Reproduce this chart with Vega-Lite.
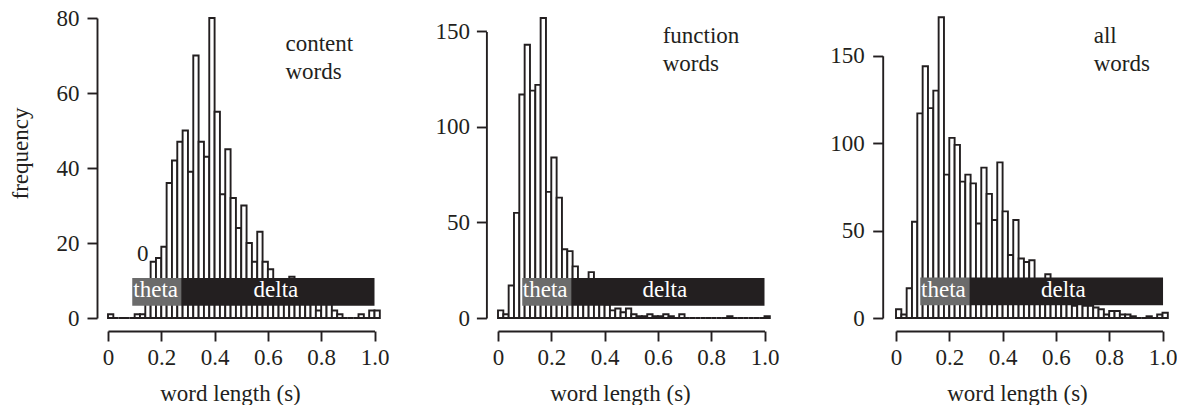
{
  "$schema": "https://vega.github.io/schema/vega-lite/v6.json",
  "background": "white",
  "padding": {"left": 9, "top": 7, "right": 0, "bottom": 0},
  "config": {
    "view": {"stroke": null},
    "axis": {
      "grid": false,
      "domainColor": "#231f20", "domainWidth": 1.9,
      "tickColor": "#231f20", "tickWidth": 1.9, "tickSize": 10,
      "labelFont": "Liberation Serif", "labelFontSize": 23, "labelColor": "#231f20",
      "titleFont": "Liberation Serif", "titleFontSize": 23, "titleFontWeight": "normal", "titleColor": "#231f20",
      "labelFlush": false, "labelOverlap": false
    }
  },
  "datasets": {
    "content": [
      {"start":0.00,"end":0.02,"count":1},{"start":0.02,"end":0.04,"count":0},{"start":0.04,"end":0.06,"count":0},
      {"start":0.06,"end":0.08,"count":0},{"start":0.08,"end":0.10,"count":0},{"start":0.10,"end":0.12,"count":1},
      {"start":0.12,"end":0.14,"count":1},{"start":0.14,"end":0.16,"count":8},{"start":0.16,"end":0.18,"count":15},
      {"start":0.18,"end":0.20,"count":16},{"start":0.20,"end":0.22,"count":19},{"start":0.22,"end":0.24,"count":36},
      {"start":0.24,"end":0.26,"count":42},{"start":0.26,"end":0.28,"count":47},{"start":0.28,"end":0.30,"count":50},
      {"start":0.30,"end":0.32,"count":39},{"start":0.32,"end":0.34,"count":70},{"start":0.34,"end":0.36,"count":47},
      {"start":0.36,"end":0.38,"count":43},{"start":0.38,"end":0.40,"count":80},{"start":0.40,"end":0.42,"count":55},
      {"start":0.42,"end":0.44,"count":33},{"start":0.44,"end":0.46,"count":45},{"start":0.46,"end":0.48,"count":32},
      {"start":0.48,"end":0.50,"count":24},{"start":0.50,"end":0.52,"count":30},{"start":0.52,"end":0.54,"count":20},
      {"start":0.54,"end":0.56,"count":15},{"start":0.56,"end":0.58,"count":23},{"start":0.58,"end":0.60,"count":15},
      {"start":0.60,"end":0.62,"count":13},{"start":0.62,"end":0.64,"count":9},{"start":0.64,"end":0.66,"count":8},
      {"start":0.66,"end":0.68,"count":7},{"start":0.68,"end":0.70,"count":11},{"start":0.70,"end":0.72,"count":6},
      {"start":0.72,"end":0.74,"count":6},{"start":0.74,"end":0.76,"count":5},{"start":0.76,"end":0.78,"count":4},
      {"start":0.78,"end":0.80,"count":2},{"start":0.80,"end":0.82,"count":4},{"start":0.82,"end":0.84,"count":4},
      {"start":0.84,"end":0.86,"count":2},{"start":0.86,"end":0.88,"count":1},{"start":0.88,"end":0.90,"count":0},
      {"start":0.90,"end":0.92,"count":0},{"start":0.92,"end":0.94,"count":0},{"start":0.94,"end":0.96,"count":1},
      {"start":0.96,"end":0.98,"count":0},{"start":0.98,"end":1.00,"count":2},{"start":1.00,"end":1.02,"count":2}
    ],
    "function": [
      {"start":0.00,"end":0.02,"count":4},{"start":0.02,"end":0.04,"count":2},{"start":0.04,"end":0.06,"count":17},
      {"start":0.06,"end":0.08,"count":55},{"start":0.08,"end":0.10,"count":117},{"start":0.10,"end":0.12,"count":143},
      {"start":0.12,"end":0.14,"count":119},{"start":0.14,"end":0.16,"count":122},{"start":0.16,"end":0.18,"count":157},
      {"start":0.18,"end":0.20,"count":66},{"start":0.20,"end":0.22,"count":84},{"start":0.22,"end":0.24,"count":63},
      {"start":0.24,"end":0.26,"count":36},{"start":0.26,"end":0.28,"count":35},{"start":0.28,"end":0.30,"count":27},
      {"start":0.30,"end":0.32,"count":15},{"start":0.32,"end":0.34,"count":16},{"start":0.34,"end":0.36,"count":24},
      {"start":0.36,"end":0.38,"count":13},{"start":0.38,"end":0.40,"count":9},{"start":0.40,"end":0.42,"count":7},
      {"start":0.42,"end":0.44,"count":4},{"start":0.44,"end":0.46,"count":5},{"start":0.46,"end":0.48,"count":3},
      {"start":0.48,"end":0.50,"count":5},{"start":0.50,"end":0.52,"count":2},{"start":0.52,"end":0.54,"count":1},
      {"start":0.54,"end":0.56,"count":1},{"start":0.56,"end":0.58,"count":2},{"start":0.58,"end":0.60,"count":1},
      {"start":0.60,"end":0.62,"count":1},{"start":0.62,"end":0.64,"count":2},{"start":0.64,"end":0.66,"count":1},
      {"start":0.66,"end":0.68,"count":0},{"start":0.68,"end":0.70,"count":2},{"start":0.70,"end":0.72,"count":0},
      {"start":0.72,"end":0.74,"count":0},{"start":0.74,"end":0.76,"count":0},{"start":0.76,"end":0.78,"count":0},
      {"start":0.78,"end":0.80,"count":0},{"start":0.80,"end":0.82,"count":0},{"start":0.82,"end":0.84,"count":0},
      {"start":0.84,"end":0.86,"count":0},{"start":0.86,"end":0.88,"count":1},{"start":0.88,"end":0.90,"count":0},
      {"start":0.90,"end":0.92,"count":0},{"start":0.92,"end":0.94,"count":0},{"start":0.94,"end":0.96,"count":0},
      {"start":0.96,"end":0.98,"count":0},{"start":0.98,"end":1.00,"count":0},{"start":1.00,"end":1.02,"count":1}
    ],
    "all": [
      {"start":0.00,"end":0.02,"count":5},{"start":0.02,"end":0.04,"count":2},{"start":0.04,"end":0.06,"count":17},
      {"start":0.06,"end":0.08,"count":55},{"start":0.08,"end":0.10,"count":117},{"start":0.10,"end":0.12,"count":144},
      {"start":0.12,"end":0.14,"count":120},{"start":0.14,"end":0.16,"count":130},{"start":0.16,"end":0.18,"count":172},
      {"start":0.18,"end":0.20,"count":82},{"start":0.20,"end":0.22,"count":103},{"start":0.22,"end":0.24,"count":99},
      {"start":0.24,"end":0.26,"count":78},{"start":0.26,"end":0.28,"count":82},{"start":0.28,"end":0.30,"count":77},
      {"start":0.30,"end":0.32,"count":54},{"start":0.32,"end":0.34,"count":86},{"start":0.34,"end":0.36,"count":71},
      {"start":0.36,"end":0.38,"count":56},{"start":0.38,"end":0.40,"count":89},{"start":0.40,"end":0.42,"count":61},
      {"start":0.42,"end":0.44,"count":36},{"start":0.44,"end":0.46,"count":56},{"start":0.46,"end":0.48,"count":34},
      {"start":0.48,"end":0.50,"count":32},{"start":0.50,"end":0.52,"count":33},{"start":0.52,"end":0.54,"count":21},
      {"start":0.54,"end":0.56,"count":16},{"start":0.56,"end":0.58,"count":25},{"start":0.58,"end":0.60,"count":16},
      {"start":0.60,"end":0.62,"count":14},{"start":0.62,"end":0.64,"count":11},{"start":0.64,"end":0.66,"count":9},
      {"start":0.66,"end":0.68,"count":7},{"start":0.68,"end":0.70,"count":13},{"start":0.70,"end":0.72,"count":7},
      {"start":0.72,"end":0.74,"count":7},{"start":0.74,"end":0.76,"count":6},{"start":0.76,"end":0.78,"count":5},
      {"start":0.78,"end":0.80,"count":2},{"start":0.80,"end":0.82,"count":4},{"start":0.82,"end":0.84,"count":4},
      {"start":0.84,"end":0.86,"count":2},{"start":0.86,"end":0.88,"count":2},{"start":0.88,"end":0.90,"count":1},
      {"start":0.90,"end":0.92,"count":0},{"start":0.92,"end":0.94,"count":0},{"start":0.94,"end":0.96,"count":1},
      {"start":0.96,"end":0.98,"count":0},{"start":0.98,"end":1.00,"count":2},{"start":1.00,"end":1.02,"count":3}
    ]
  },
  "spacing": 50,
  "hconcat": [
    {
      "spacing": 45,
      "hconcat": [
        {
          "width": 266.5, "height": 300,
          "layer": [
            {
              "data": {"name": "content"},
              "mark": {"type": "rect", "fill": "white", "stroke": "#231f20", "strokeWidth": 1.9},
              "encoding": {
                "x": {"field": "start", "type": "quantitative", "title": "word length (s)",
                      "scale": {"domain": [0, 1], "nice": false, "zero": false},
                      "axis": {"values": [0, 0.2, 0.4, 0.6, 0.8, 1], "offset": 13, "labelPadding": 5, "titlePadding": 13, "titleX": 122,
                               "labelExpr": "datum.value == 0 ? '0' : format(datum.value, '.1f')"}},
                "x2": {"field": "end"},
                "y": {"field": "count", "type": "quantitative", "title": "frequency",
                      "scale": {"domain": [0, 80], "range": [300, 0], "nice": false},
                      "axis": {"values": [0, 20, 40, 60, 80], "offset": 11, "labelPadding": 8, "titlePadding": 24, "titleY": 135}},
                "y2": {"datum": 0}
              }
            },
            {"data": {"values": [{}]}, "mark": {"type": "rect", "fill": "#6b6b6b"},
             "encoding": {"x": {"datum": 0.091}, "x2": {"datum": 0.275}, "y": {"datum": 10.7}, "y2": {"datum": 3.3}}},
            {"data": {"values": [{}]}, "mark": {"type": "rect", "fill": "#231f20"},
             "encoding": {"x": {"datum": 0.275}, "x2": {"datum": 1.0}, "y": {"datum": 10.7}, "y2": {"datum": 3.3}}},
            {"data": {"values": [{}]}, "mark": {"type": "text", "text": "theta", "align": "left", "baseline": "alphabetic", "font": "Liberation Serif", "fontSize": 23, "color": "white"},
             "encoding": {"x": {"datum": 0.095}, "y": {"datum": 5.5}}},
            {"data": {"values": [{}]}, "mark": {"type": "text", "text": "delta", "align": "center", "baseline": "alphabetic", "font": "Liberation Serif", "fontSize": 23, "color": "white"},
             "encoding": {"x": {"datum": 0.63}, "y": {"datum": 5.5}}},
            {"data": {"values": [{}]}, "mark": {"type": "text", "text": "0", "align": "center", "baseline": "alphabetic", "font": "Liberation Serif", "fontSize": 23, "color": "#231f20"},
             "encoding": {"x": {"datum": 0.13}, "y": {"datum": 15.1}}},
            {"data": {"values": [{}]}, "mark": {"type": "text", "text": ["content", "words"], "lineHeight": 27.5, "align": "left", "baseline": "alphabetic", "font": "Liberation Serif", "fontSize": 23, "color": "#231f20"},
             "encoding": {"x": {"datum": 0.666}, "y": {"datum": 71.1}}}
          ]
        },
        {
          "width": 266.5, "height": 300,
          "layer": [
            {
              "data": {"name": "function"},
              "mark": {"type": "rect", "fill": "white", "stroke": "#231f20", "strokeWidth": 1.9},
              "encoding": {
                "x": {"field": "start", "type": "quantitative", "title": "word length (s)",
                      "scale": {"domain": [0, 1], "nice": false, "zero": false},
                      "axis": {"values": [0, 0.2, 0.4, 0.6, 0.8, 1], "offset": 13, "labelPadding": 5, "titlePadding": 13, "titleX": 122,
                               "labelExpr": "datum.value == 0 ? '0' : format(datum.value, '.1f')"}},
                "x2": {"field": "end"},
                "y": {"field": "count", "type": "quantitative", "title": null,
                      "scale": {"domain": [0, 150], "range": [300, 13.4], "nice": false},
                      "axis": {"values": [0, 50, 100, 150], "offset": 11.6, "labelPadding": 7}},
                "y2": {"datum": 0}
              }
            },
            {"data": {"values": [{}]}, "mark": {"type": "rect", "fill": "#6b6b6b"},
             "encoding": {"x": {"datum": 0.091}, "x2": {"datum": 0.275}, "y": {"datum": 20.9}, "y2": {"datum": 6.4}}},
            {"data": {"values": [{}]}, "mark": {"type": "rect", "fill": "#231f20"},
             "encoding": {"x": {"datum": 0.275}, "x2": {"datum": 1.0}, "y": {"datum": 20.9}, "y2": {"datum": 6.4}}},
            {"data": {"values": [{}]}, "mark": {"type": "text", "text": "theta", "align": "left", "baseline": "alphabetic", "font": "Liberation Serif", "fontSize": 23, "color": "white"},
             "encoding": {"x": {"datum": 0.093}, "y": {"datum": 10.8}}},
            {"data": {"values": [{}]}, "mark": {"type": "text", "text": "delta", "align": "center", "baseline": "alphabetic", "font": "Liberation Serif", "fontSize": 23, "color": "white"},
             "encoding": {"x": {"datum": 0.626}, "y": {"datum": 10.8}}},
            {"data": {"values": [{}]}, "mark": {"type": "text", "text": ["function", "words"], "lineHeight": 28, "align": "left", "baseline": "alphabetic", "font": "Liberation Serif", "fontSize": 23, "color": "#231f20"},
             "encoding": {"x": {"datum": 0.618}, "y": {"datum": 143.9}}}
          ]
        }
      ]
    },
    {
      "width": 266.5, "height": 300,
      "layer": [
        {
          "data": {"name": "all"},
          "mark": {"type": "rect", "fill": "white", "stroke": "#231f20", "strokeWidth": 1.9},
          "encoding": {
            "x": {"field": "start", "type": "quantitative", "title": "word length (s)",
                  "scale": {"domain": [0, 1], "nice": false, "zero": false},
                  "axis": {"values": [0, 0.2, 0.4, 0.6, 0.8, 1], "offset": 13, "labelPadding": 5, "titlePadding": 13, "titleX": 121,
                           "labelExpr": "datum.value == 0 ? '0' : format(datum.value, '.1f')"}},
            "x2": {"field": "end"},
            "y": {"field": "count", "type": "quantitative", "title": null,
                  "scale": {"domain": [0, 150], "range": [300, 37.7], "nice": false},
                  "axis": {"values": [0, 50, 100, 150], "offset": 13.3, "labelPadding": 8.4}},
            "y2": {"datum": 0}
          }
        },
        {"data": {"values": [{}]}, "mark": {"type": "rect", "fill": "#6b6b6b"},
         "encoding": {"x": {"datum": 0.091}, "x2": {"datum": 0.276}, "y": {"datum": 23.2}, "y2": {"datum": 7.3}}},
        {"data": {"values": [{}]}, "mark": {"type": "rect", "fill": "#231f20"},
         "encoding": {"x": {"datum": 0.276}, "x2": {"datum": 1.002}, "y": {"datum": 23.2}, "y2": {"datum": 7.3}}},
        {"data": {"values": [{}]}, "mark": {"type": "text", "text": "theta", "align": "left", "baseline": "alphabetic", "font": "Liberation Serif", "fontSize": 23, "color": "white"},
         "encoding": {"x": {"datum": 0.094}, "y": {"datum": 11.8}}},
        {"data": {"values": [{}]}, "mark": {"type": "text", "text": "delta", "align": "center", "baseline": "alphabetic", "font": "Liberation Serif", "fontSize": 23, "color": "white"},
         "encoding": {"x": {"datum": 0.628}, "y": {"datum": 11.8}}},
        {"data": {"values": [{}]}, "mark": {"type": "text", "text": ["all", "words"], "lineHeight": 28, "align": "left", "baseline": "alphabetic", "font": "Liberation Serif", "fontSize": 23, "color": "#231f20"},
         "encoding": {"x": {"datum": 0.742}, "y": {"datum": 157.3}}}
      ]
    }
  ]
}
